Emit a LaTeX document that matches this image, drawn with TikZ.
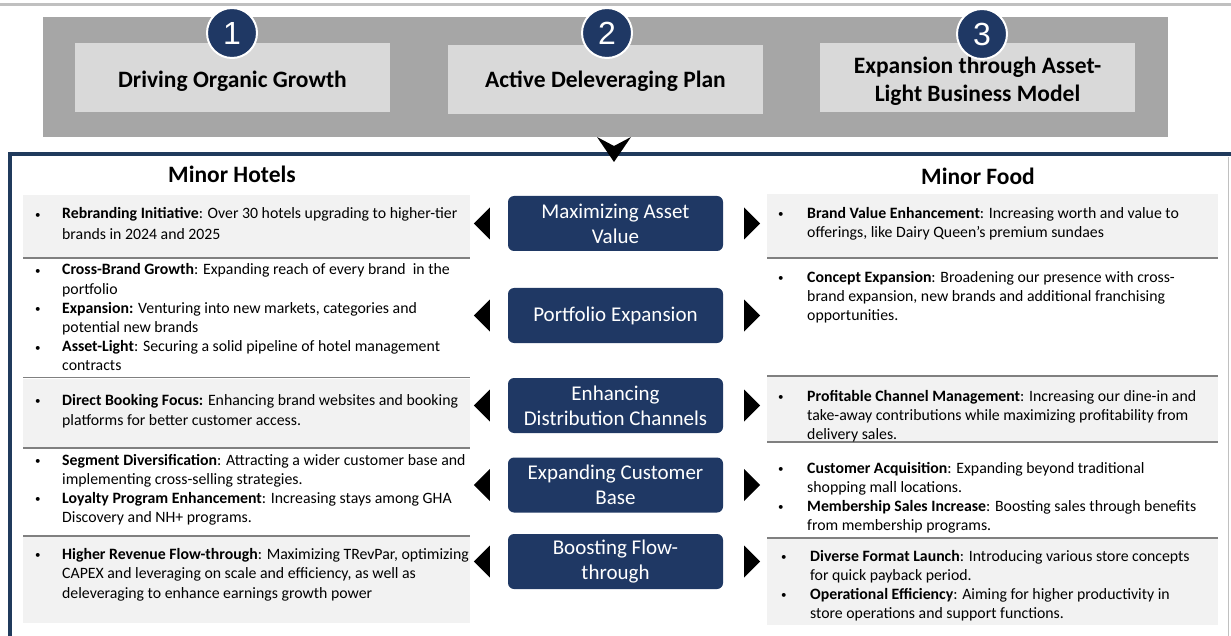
\documentclass[tikz,border=0pt]{standalone}
\usepackage{fontspec}
\setmainfont{Carlito}
\newfontfamily\numfont{Liberation Sans}
\usetikzlibrary{calc}
\definecolor{navy}{HTML}{1F3864}
\definecolor{framecol}{HTML}{203A5C}
\definecolor{bandgray}{HTML}{A6A6A6}
\definecolor{boxgray}{HTML}{D9D9D9}
\definecolor{panelgray}{HTML}{F2F2F2}
\definecolor{rulegray}{HTML}{808080}
\definecolor{topline}{HTML}{C0C0C0}
\newcommand\hbul[1][27pt]{\leavevmode\llap{\makebox[#1][l]{\raisebox{0.6pt}{\fontsize{11}{11}\selectfont\textbullet}}}}
\newcommand\ptext[2]{\parbox[t]{520pt}{\raggedright\fontsize{15.8}{#1}\selectfont #2}}
\begin{document}
\begin{tikzpicture}[x=1pt,y=-1pt,
  topbox/.style={fill=boxgray, minimum width=315, minimum height=69, inner sep=0},
  toptext/.style={font=\fontsize{23.5}{28}\selectfont\bfseries, align=center, inner sep=0},
  numcirc/.style={circle, fill=navy, draw=white, line width=2pt, minimum size=50,
    inner sep=0, text=white, font=\numfont\fontsize{32}{32}\selectfont},
  midbox/.style={fill=navy, rounded corners=6pt, minimum width=215, minimum height=55,
    inner sep=0, text=white, align=center, font=\fontsize{21}{25}\selectfont},
  heading/.style={font=\fontsize{23.5}{26}\selectfont\bfseries, inner sep=0},
  ptxt/.style={anchor=base west, inner sep=0},
  panelrule/.style={draw=rulegray, line width=1.5pt}]
\useasboundingbox (0,0) rectangle (1231,636);

% thin rule along the top edge
\draw[topline, line width=3pt] (0,4.5) -- (1231,4.5);

% grey band with the three pillars
\fill[bandgray] (43,17) rectangle (1168,137);
\node[topbox] (p1) at (232.5,78) {};
\node[topbox] (p2) at (605.5,79.5) {};
\node[topbox] (p3) at (977.5,78) {};
\node[toptext] (t1) at ([yshift=-3pt]p1.center) {Driving Organic Growth};
\node[toptext] (t2) at ([yshift=-2pt]p2.center) {Active Deleveraging Plan};
\node[toptext] (t3) at ([yshift=-3pt]p3.center) {Expansion through Asset-\\Light Business Model};
\node[numcirc] (n1) at (232,33) {1};
\node[numcirc] (n2) at (607,33) {2};
\node[numcirc] (n3) at (982,34) {3};

% outer frame
\draw[framecol, line width=4pt] (10,645) -- (10,154) -- (1240,154);
\draw[topline, line width=1pt] (1228.5,157) -- (1228.5,640);

% pointer from the band into the frame
\fill[black] (597,137) -- (614,146) -- (631,137) -- (614,162) -- cycle;

% column headings
\node[heading] (hh) at (232,174) {Minor Hotels};
\node[heading] (hf) at (978,176) {Minor Food};

% left column panels
\fill[panelgray] (23,195) rectangle (470,257);
\draw[panelrule] (23,258) -- (470,258);
\draw[panelrule] (23,377.5) -- (470,377.5);
\fill[panelgray] (23,379) rectangle (470,447);
\draw[panelrule] (23,448) -- (470,448);
\draw[panelrule] (23,536) -- (470,536);
\fill[panelgray] (23,537) rectangle (470,623);

% right column panels
\fill[panelgray] (767,194) rectangle (1218,257);
\draw[panelrule] (767,258) -- (1218,258);
\draw[panelrule] (767,376) -- (1218,376);
\fill[panelgray] (767,377) rectangle (1218,441);
\draw[panelrule] (767,442) -- (1218,442);
\draw[panelrule] (767,538) -- (1218,538);
\fill[panelgray] (767,539) rectangle (1218,625);

% centre strategy boxes
\node[midbox] (mA) at (615.5,223.5) {Maximizing Asset\\Value};
\node[midbox] (mB) at (615.5,315.5) {Portfolio Expansion};
\node[midbox] (mC) at (615.5,405.5) {Enhancing\\Distribution Channels};
\node[midbox] (mD) at (615.5,485) {Expanding Customer\\Base};
\node[midbox] (mE) at (615.5,561.5) {Boosting Flow-\\through};

% arrowheads on both sides of each box
\foreach \b in {mA,mB,mC,mD,mE}{
  \fill[black] ([shift={(-18,-16)}]\b.west) -- ([shift={(-34,0)}]\b.west) -- ([shift={(-18,16)}]\b.west) -- cycle;
  \fill[black] ([shift={(21,-16)}]\b.east) -- ([shift={(37,0)}]\b.east) -- ([shift={(21,16)}]\b.east) -- cycle;
}

% Minor Hotels texts
\node[ptxt] (l1) at (62,219) {\ptext{21}{\hbul\textbf{Rebranding Initiative}: Over 30 hotels upgrading to higher-tier\\
  brands in 2024 and 2025}};
\node[ptxt] (l2) at (62,275) {\ptext{19.2}{\hbul\textbf{Cross-Brand Growth}: Expanding reach of every brand~ in the\\
  portfolio\\
  \hbul\textbf{Expansion:} Venturing into new markets, categories and\\
  potential new brands\\
  \hbul\textbf{Asset-Light}: Securing a solid pipeline of hotel management\\
  contracts}};
\node[ptxt] (l3) at (62,405) {\ptext{20}{\hbul\textbf{Direct Booking Focus:} Enhancing brand websites and booking\\
  platforms for better customer access.}};
\node[ptxt] (l4) at (62,465) {\ptext{19}{\hbul\textbf{Segment Diversification}: Attracting a wider customer base and\\
  implementing cross-selling strategies.\\
  \hbul\textbf{Loyalty Program Enhancement}: Increasing stays among GHA\\
  Discovery and NH+ programs.}};
\node[ptxt] (l5) at (62,559) {\ptext{19.5}{\hbul\textbf{Higher Revenue Flow-through}: Maximizing TRevPar, optimizing\\
  CAPEX and leveraging on scale and efficiency, as well as\\
  deleveraging to enhance earnings growth power}};

% Minor Food texts
\node[ptxt] (r1) at (807,218.5) {\ptext{19.5}{\hbul[29pt]\textbf{Brand Value Enhancement}: Increasing worth and value to\\
  offerings, like Dairy Queen’s premium sundaes}};
\node[ptxt] (r2) at (807,282.5) {\ptext{19}{\hbul[29pt]\textbf{Concept Expansion}: Broadening our presence with cross-\\
  brand expansion, new brands and additional franchising\\
  opportunities.}};
\node[ptxt] (r3) at (807,401) {\ptext{19}{\hbul[29pt]\textbf{Profitable Channel Management}: Increasing our dine-in and\\
  take-away contributions while maximizing profitability from\\
  delivery sales.}};
\node[ptxt] (r4) at (807,473) {\ptext{19}{\hbul[29pt]\textbf{Customer Acquisition}: Expanding beyond traditional\\
  shopping mall locations.\\
  \hbul[29pt]\textbf{Membership Sales Increase}: Boosting sales through benefits\\
  from membership programs.}};
\node[ptxt] (r5) at (810,561) {\ptext{19}{\hbul[29pt]\textbf{Diverse Format Launch}: Introducing various store concepts\\
  for quick payback period.\\
  \hbul[29pt]\textbf{Operational Efficiency}: Aiming for higher productivity in\\
  store operations and support functions.}};
\end{tikzpicture}
\end{document}
